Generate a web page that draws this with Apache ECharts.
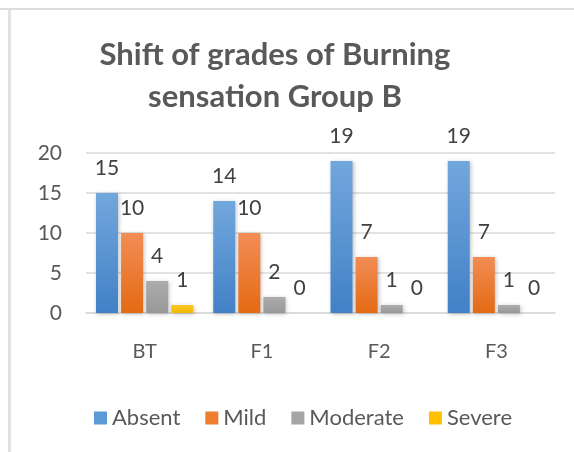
<!DOCTYPE html>
<html>
<head>
<meta charset="utf-8">
<script src="https://cdn.jsdelivr.net/npm/echarts@6/dist/echarts.min.js"></script>
<style>
  html, body { margin: 0; padding: 0; background: #ffffff; }
  .frame {
    position: absolute;
    left: 0; top: 0;
    width: 574px; height: 452px;
    overflow: hidden;
  }
  .frame .topline {
    position: absolute; left: 0; top: 8px; width: 574px; height: 2px; background: #dcdcdc;
  }
  .frame .leftline {
    position: absolute; left: 8px; top: 9px; width: 3px; height: 443px; background: #e2e2e2;
  }
  #main { position: absolute; left: 0; top: 0; width: 574px; height: 452px; }
</style>
</head>
<body>
<div class="frame">
  <div class="topline"></div>
  <div class="leftline"></div>
  <div id="main"></div>
</div>
<script>
// chart data
var categories = ["BT", "F1", "F2", "F3"];
var absent = [15, 14, 19, 19];
var mild = [10, 10, 7, 7];
var moderate = [4, 2, 1, 1];
var severe = [1, 0, 0, 0];
var yTicks = [0, 5, 10, 15, 20];

var fontFam = "Lato, 'Open Sans', sans-serif";

function grad(top, bottom) {
  return new echarts.graphic.LinearGradient(0, 0, 0, 1, [
    { offset: 0, color: top },
    { offset: 1, color: bottom }
  ]);
}

function makeSeries(name, data, top, bottom) {
  return {
    name: name,
    type: "bar",
    data: data,
    barWidth: 22,
    barGap: "14%",
    itemStyle: {
      color: grad(top, bottom),
      shadowColor: "rgba(0,0,0,0.25)",
      shadowBlur: 4,
      shadowOffsetX: 1,
      shadowOffsetY: 1
    },
    label: {
      show: true,
      position: "top",
      distance: 14,
      fontSize: 21,
      fontFamily: fontFam,
      color: "#404040"
    }
  };
}

var chartDom = document.getElementById("main");
var myChart = echarts.init(chartDom);
var option = {
  animation: false,
  title: {
    text: "Shift of grades of Burning\nsensation Group B",
    left: 270,
    top: 29,
    textAlign: "center",
    textStyle: {
      fontFamily: fontFam,
      fontWeight: "bold",
      fontSize: 31,
      lineHeight: 42,
      color: "#595959"
    }
  },
  legend: {
    bottom: 18,
    left: 89,
    itemWidth: 13,
    itemHeight: 13,
    itemGap: 25,
    icon: "rect",
    textStyle: {
      fontFamily: fontFam,
      fontSize: 22,
      color: "#595959"
    },
    data: [
      { name: "Absent", itemStyle: { color: "#5b9bd5" } },
      { name: "Mild", itemStyle: { color: "#ed7d31" } },
      { name: "Moderate", itemStyle: { color: "#a5a5a5" } },
      { name: "Severe", itemStyle: { color: "#ffc000" } }
    ]
  },
  grid: {
    left: 86,
    right: 19,
    top: 153,
    bottom: 139
  },
  xAxis: {
    type: "category",
    data: categories,
    axisLine: { lineStyle: { color: "#d9d9d9", width: 1.5 } },
    axisTick: { show: false },
    axisLabel: {
      margin: 29,
      fontSize: 20,
      fontFamily: fontFam,
      color: "#595959"
    }
  },
  yAxis: {
    type: "value",
    min: yTicks[0],
    max: yTicks[yTicks.length - 1],
    interval: 5,
    axisLine: { show: false },
    axisTick: { show: false },
    splitLine: { lineStyle: { color: "#d9d9d9", width: 1.5 } },
    axisLabel: {
      margin: 24,
      fontSize: 21,
      fontFamily: fontFam,
      color: "#595959"
    }
  },
  series: [
    makeSeries("Absent", absent, "#72a7dd", "#4281c6"),
    makeSeries("Mild", mild, "#f28d55", "#e46a14"),
    makeSeries("Moderate", moderate, "#acacac", "#989898"),
    makeSeries("Severe", severe, "#ffc72a", "#f4b700")
  ]
};
option && myChart.setOption(option);
</script>
</body>
</html>
